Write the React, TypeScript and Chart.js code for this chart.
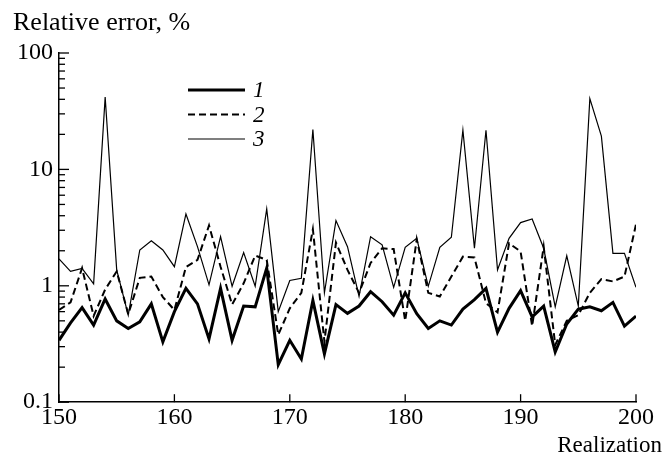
import React, { useEffect, useRef } from 'react';
import { Chart, registerables } from 'chart.js';

Chart.register(...registerables);

const realizations = [
  150, 151, 152, 153, 154, 155, 156, 157, 158, 159,
  160, 161, 162, 163, 164, 165, 166, 167, 168, 169,
  170, 171, 172, 173, 174, 175, 176, 177, 178, 179,
  180, 181, 182, 183, 184, 185, 186, 187, 188, 189,
  190, 191, 192, 193, 194, 195, 196, 197, 198, 199, 200,
];

const series1 = [
  0.34, 0.48, 0.65, 0.46, 0.77, 0.5, 0.43, 0.49, 0.7, 0.33,
  0.6, 0.95, 0.7, 0.35, 0.95, 0.34, 0.67, 0.66, 1.42, 0.21,
  0.34, 0.235, 0.75, 0.26, 0.69, 0.58, 0.67, 0.89, 0.73, 0.56,
  0.87, 0.575, 0.43, 0.5, 0.46, 0.63, 0.76, 0.95, 0.4, 0.64,
  0.91, 0.54, 0.67, 0.27, 0.47, 0.63, 0.66, 0.61, 0.72, 0.45, 0.55,
];

const series2 = [
  0.62, 0.72, 1.42, 0.55, 0.93, 1.33, 0.57, 1.17, 1.2, 0.8,
  0.62, 1.45, 1.67, 3.3, 1.46, 0.69, 1.05, 1.82, 1.67, 0.38,
  0.64, 0.87, 3.06, 0.33, 2.35, 1.37, 0.87, 1.57, 2.1, 2.07,
  0.5, 2.51, 0.87, 0.81, 1.2, 1.78, 1.75, 0.71, 0.59, 2.32,
  1.97, 0.45, 2.17, 0.31, 0.5, 0.56, 0.87, 1.14, 1.09, 1.2, 3.38,
];

const series3 = [
  1.7, 1.33, 1.41, 1.04, 41.9, 1.37, 0.56, 2.03, 2.44, 2.03,
  1.46, 4.14, 2.17, 1.02, 2.64, 0.99, 1.93, 0.99, 4.57, 0.6,
  1.11, 1.16, 22.0, 0.87, 3.63, 2.17, 0.81, 2.64, 2.25, 0.97,
  2.14, 2.56, 0.99, 2.14, 2.61, 21.7, 2.1, 21.7, 1.37, 2.56,
  3.49, 3.75, 2.1, 0.66, 1.81, 0.67, 40.5, 19.3, 1.9, 1.9, 0.97,
];

const xTicks = [150, 160, 170, 180, 190, 200];
const yTicks = [0.1, 1, 10, 100];
const yTickLabels = ['0.1', '1', '10', '100'];
const legendLabels = ['1', '2', '3'];
const yTitle = 'Relative error, %';
const xTitle = 'Realization';

const FONT = "'Liberation Serif', 'Times New Roman', serif";

const decorPlugin = {
  id: 'decor',
  afterDraw(chart: any) {
    const { ctx, chartArea } = chart;
    const xs = chart.scales.x;
    const ys = chart.scales.y;
    ctx.save();
    ctx.strokeStyle = '#000';
    ctx.lineWidth = 1.3;
    ctx.setLineDash([]);
    // x ticks (inward)
    xTicks.forEach((v) => {
      const px = xs.getPixelForValue(v);
      ctx.beginPath();
      ctx.moveTo(px, chartArea.bottom);
      ctx.lineTo(px, chartArea.bottom - 8);
      ctx.stroke();
    });
    // y ticks (inward), major + minor
    for (let d = 0; d < yTicks.length; d++) {
      const base = yTicks[d];
      const py = ys.getPixelForValue(base);
      ctx.beginPath();
      ctx.moveTo(chartArea.left, py);
      ctx.lineTo(chartArea.left + 10, py);
      ctx.stroke();
      if (d < yTicks.length - 1) {
        for (let m = 2; m <= 9; m++) {
          const my = ys.getPixelForValue(base * m);
          ctx.beginPath();
          ctx.moveTo(chartArea.left, my);
          ctx.lineTo(chartArea.left + 6, my);
          ctx.stroke();
        }
      }
    }
    // titles
    ctx.fillStyle = '#000';
    ctx.font = `26px ${FONT}`;
    ctx.textAlign = 'left';
    ctx.textBaseline = 'alphabetic';
    ctx.fillText(yTitle, chartArea.left - 46, chartArea.top - 23);
    ctx.font = `23px ${FONT}`;
    ctx.textAlign = 'right';
    ctx.fillText(xTitle, chartArea.right + 26, chartArea.bottom + 50);
    // legend
    chart.data.datasets.forEach((ds: any, i: number) => {
      const ly = chartArea.top + 37 + i * 24.5;
      ctx.beginPath();
      ctx.lineWidth = ds.borderWidth;
      ctx.setLineDash(ds.borderDash || []);
      ctx.moveTo(chartArea.left + 129, ly);
      ctx.lineTo(chartArea.left + 186, ly);
      ctx.stroke();
      ctx.setLineDash([]);
      ctx.font = `italic 23px ${FONT}`;
      ctx.textAlign = 'left';
      ctx.textBaseline = 'middle';
      ctx.fillText(legendLabels[i], chartArea.left + 194, ly + 1);
    });
    ctx.restore();
  },
};

export default function App() {
  const ref = useRef<HTMLCanvasElement | null>(null);
  useEffect(() => {
    document.body.style.margin = '0';
    if (!ref.current) return;
    const mk = (vals: number[]) => vals.map((v, i) => ({ x: realizations[i], y: v }));
    const chart = new Chart(ref.current, {
      type: 'line',
      data: {
        datasets: [
          { label: '1', data: mk(series1), borderColor: '#000', borderWidth: 3, pointRadius: 0, tension: 0, fill: false },
          { label: '2', data: mk(series2), borderColor: '#000', borderWidth: 2, borderDash: [7, 4], pointRadius: 0, tension: 0, fill: false },
          { label: '3', data: mk(series3), borderColor: '#000', borderWidth: 1.2, pointRadius: 0, tension: 0, fill: false },
        ],
      },
      options: {
        animation: false,
        responsive: false,
        layout: { padding: { left: 0, top: 53, right: 32, bottom: 31 } },
        plugins: { legend: { display: false }, tooltip: { enabled: false } },
        scales: {
          x: {
            type: 'linear',
            min: 150,
            max: 200,
            afterBuildTicks: (s: any) => { s.ticks = xTicks.map((v) => ({ value: v })); },
            ticks: { color: '#000', font: { family: FONT, size: 24 }, padding: 1, maxRotation: 0, autoSkip: false },
            grid: { display: false, drawTicks: false },
            border: { display: true, color: '#000', width: 1.5 },
          },
          y: {
            type: 'logarithmic',
            min: 0.1,
            max: 100,
            afterBuildTicks: (s: any) => { s.ticks = yTicks.map((v) => ({ value: v })); },
            afterFit: (s: any) => { s.width = 59; },
            ticks: {
              color: '#000',
              font: { family: FONT, size: 24 },
              padding: 6,
              autoSkip: false,
              callback: (v: any) => { const k = yTicks.indexOf(Number(v)); return k >= 0 ? yTickLabels[k] : ''; },
            },
            grid: { display: false, drawTicks: false },
            border: { display: true, color: '#000', width: 1.5 },
          },
        },
      },
      plugins: [decorPlugin],
    });
    return () => chart.destroy();
  }, []);
  return (
    <div style={{ width: 668, height: 464 }}>
      <canvas ref={ref} width={668} height={464} />
    </div>
  );
}
